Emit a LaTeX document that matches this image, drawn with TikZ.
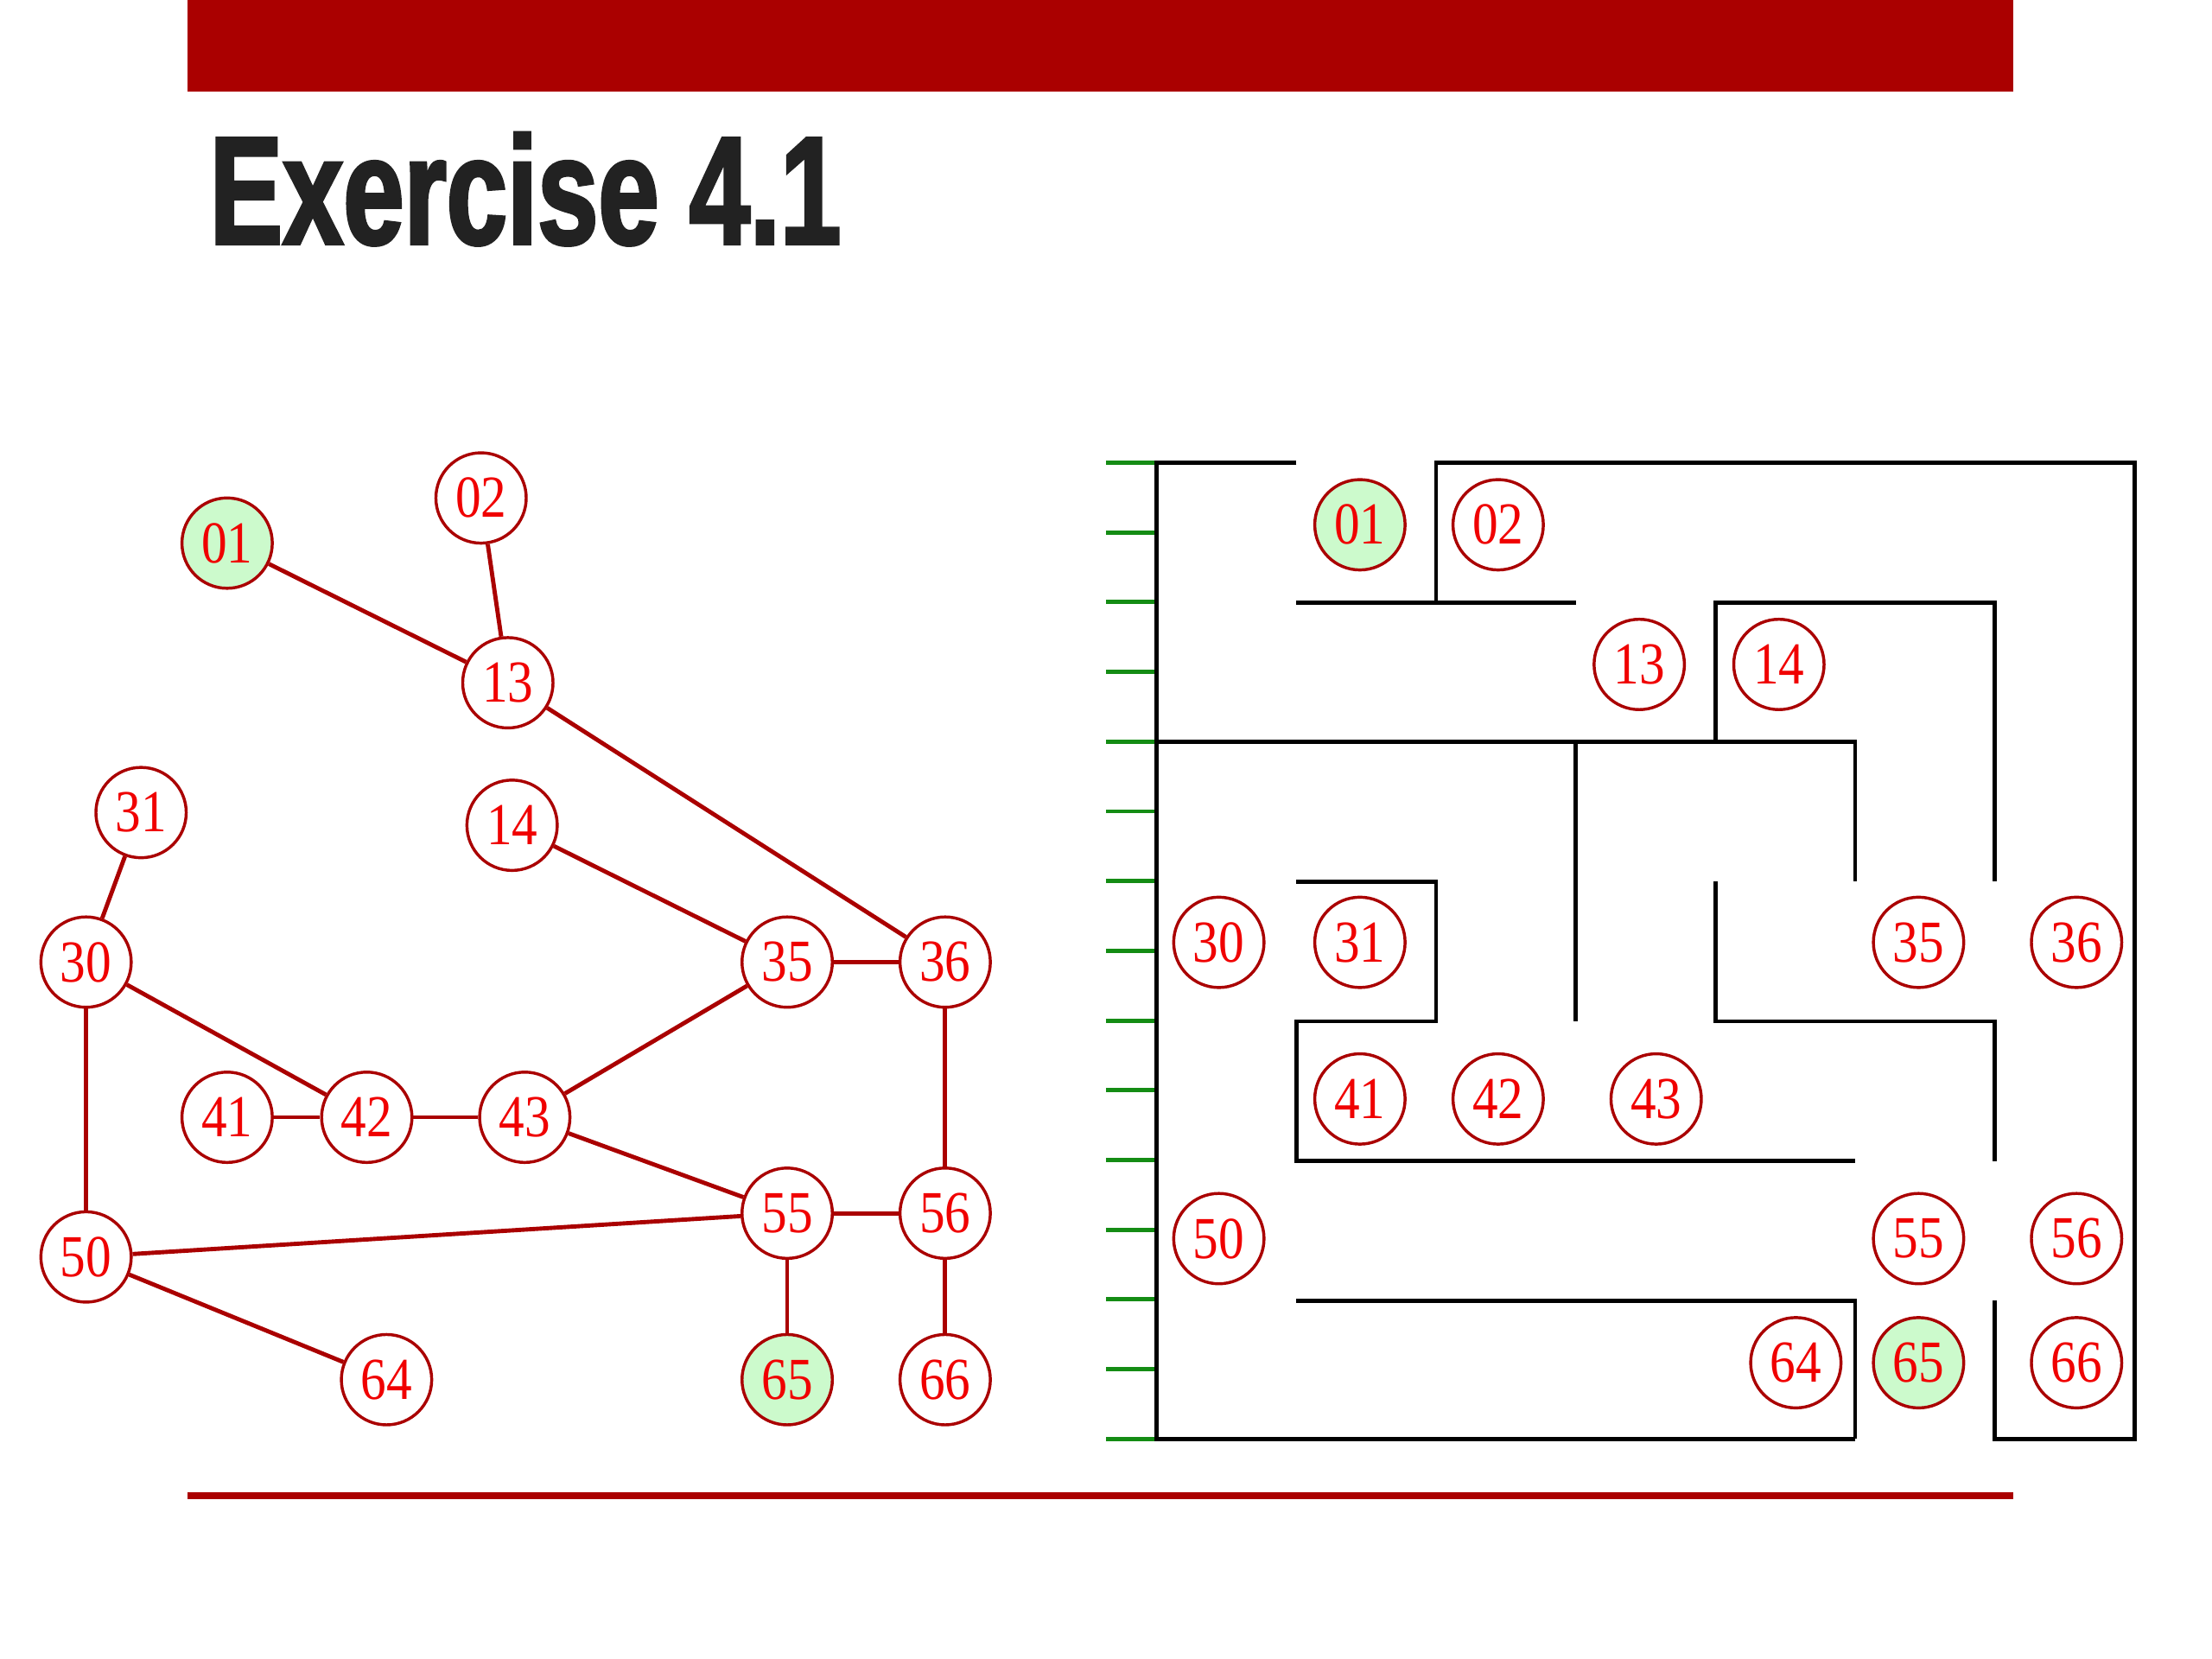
\documentclass[tikz,border=0pt]{standalone}
\usepackage{fontspec}
\newfontfamily\titlefont[FakeStretch=0.71,BoldFeatures={FakeBold=2}]{Liberation Sans}
\newfontfamily\numfont[FakeStretch=0.86]{Liberation Serif}
\definecolor{barred}{RGB}{170,0,0}
\definecolor{txtred}{RGB}{240,0,0}
\definecolor{nodegreen}{RGB}{204,250,204}
\definecolor{tickgreen}{RGB}{20,140,20}
\definecolor{titlegray}{RGB}{34,34,34}

\begin{document}
\begin{tikzpicture}[x=0.01cm,y=-0.01cm,
  vtx/.style={circle,draw=barred,line width=0.6pt,fill=white,minimum size=0.64cm,inner sep=0pt,text=txtred,font=\numfont\fontsize{12}{12}\selectfont},
  endpt/.style={vtx,fill=nodegreen},
  link/.style={barred,line width=0.85pt},
  wall/.style={black,line width=0.85pt},
  gtick/.style={tickgreen,line width=0.85pt}]
\useasboundingbox (0,0) rectangle (1568,1176);

% header and footer
\fill[barred] (133,0) rectangle (1427,65);
\node[anchor=base west,inner sep=0pt,text=titlegray,font=\titlefont\bfseries\fontsize{31}{31}\selectfont] (title) at (148,173) {Exercise 4.1};
\draw[barred,line width=1.4pt] (133,1060) -- (1427,1060);

% the graph
\node[endpt] (g01) at (161,385) {01};
\node[vtx] (g02) at (341,353) {02};
\node[vtx] (g13) at (360,484) {13};
\node[vtx] (g31) at (100,576) {31};
\node[vtx] (g14) at (363,585) {14};
\node[vtx] (g30) at (61,682) {30};
\node[vtx] (g35) at (558,682) {35};
\node[vtx] (g36) at (670,682) {36};
\node[vtx] (g41) at (161,792) {41};
\node[vtx] (g42) at (260,792) {42};
\node[vtx] (g43) at (372,792) {43};
\node[vtx] (g50) at (61,891) {50};
\node[vtx] (g55) at (558,860) {55};
\node[vtx] (g56) at (670,860) {56};
\node[vtx] (g64) at (274,978) {64};
\node[endpt] (g65) at (558,978) {65};
\node[vtx] (g66) at (670,978) {66};

\draw[link] (g01) -- (g13);
\draw[link] (g02) -- (g13);
\draw[link] (g13) -- (g36);
\draw[link] (g31) -- (g30);
\draw[link] (g14) -- (g35);
\draw[link] (g30) -- (g42);
\draw[link] (g30) -- (g50);
\draw[link] (g35) -- (g36);
\draw[link] (g35) -- (g43);
\draw[link] (g41) -- (g42);
\draw[link] (g42) -- (g43);
\draw[link] (g43) -- (g55);
\draw[link] (g36) -- (g56);
\draw[link] (g55) -- (g56);
\draw[link] (g50) -- (g55);
\draw[link] (g50) -- (g64);
\draw[link] (g55) -- (g65);
\draw[link] (g56) -- (g66);

% the maze
\foreach \i in {0,...,14}
  \draw[gtick] ({784},{328+49.43*\i}) -- ({820},{328+49.43*\i});

\draw[wall] (919,328) -- (820,328) -- (820,1020) -- (1315,1020);
\draw[wall] (1018,427) -- (1018,328) -- (1513,328) -- (1513,1020) -- (1414,1020) -- (1414,922);
\draw[wall] (919,427) -- (1117,427);
\draw[wall] (1216,526) -- (1216,427) -- (1414,427) -- (1414,625);
\draw[wall] (820,526) -- (1315,526) -- (1315,625);
\draw[wall] (1117,526) -- (1117,724);
\draw[wall] (919,625) -- (1018,625) -- (1018,724) -- (919,724) -- (919,823) -- (1315,823);
\draw[wall] (1216,625) -- (1216,724) -- (1414,724) -- (1414,823);
\draw[wall] (919,922) -- (1315,922) -- (1315,1020);

\node[endpt] (m01) at (964,372) {01};
\node[vtx] (m02) at (1062,372) {02};
\node[vtx] (m13) at (1162,471) {13};
\node[vtx] (m14) at (1261,471) {14};
\node[vtx] (m30) at (864,668) {30};
\node[vtx] (m31) at (964,668) {31};
\node[vtx] (m35) at (1360,668) {35};
\node[vtx] (m36) at (1472,668) {36};
\node[vtx] (m41) at (964,779) {41};
\node[vtx] (m42) at (1062,779) {42};
\node[vtx] (m43) at (1174,779) {43};
\node[vtx] (m50) at (864,878) {50};
\node[vtx] (m55) at (1360,878) {55};
\node[vtx] (m56) at (1472,878) {56};
\node[vtx] (m64) at (1273,966) {64};
\node[endpt] (m65) at (1360,966) {65};
\node[vtx] (m66) at (1472,966) {66};
\end{tikzpicture}
\end{document}
